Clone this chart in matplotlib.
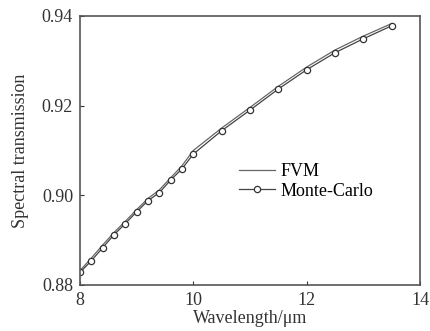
import numpy as np
import matplotlib.pyplot as plt

plt.rcParams['font.family'] = ['Liberation Serif', 'DejaVu Serif']

wl = np.array([8.0, 8.2, 8.4, 8.6, 8.8, 9.0, 9.2, 9.4, 9.6, 9.8,
               10.0, 10.5, 11.0, 11.5, 12.0, 12.5, 13.0, 13.5])
fvm = np.array([0.8832, 0.8860, 0.8889, 0.8917, 0.8942, 0.8968, 0.8993, 0.9012, 0.9039, 0.9066,
                0.9100, 0.9150, 0.9196, 0.9243, 0.9286, 0.9324, 0.9355, 0.9383])
mc = np.array([0.8828, 0.8854, 0.8883, 0.8912, 0.8937, 0.8963, 0.8988, 0.9006, 0.9034, 0.9059,
               0.9092, 0.9144, 0.9190, 0.9237, 0.9280, 0.9318, 0.9349, 0.9378])
xticks = [8, 10, 12, 14]
yticks = [0.88, 0.90, 0.92, 0.94]

fig = plt.figure(figsize=(4.3, 3.31), dpi=100)
ax = fig.add_axes([0.186, 0.139, 0.791, 0.813])

ax.plot(wl, fvm, color='#666666', lw=0.9, label='FVM')
ax.plot(wl, mc, color='#444444', lw=0.9, marker='o', ms=4.5, mfc='white',
        mec='#333333', mew=0.9, label='Monte-Carlo')

ax.set_xlim(8, 14)
ax.set_ylim(0.88, 0.94)
ax.set_xticks(xticks)
ax.set_yticks(yticks)
ax.set_yticklabels([f'{v:.2f}' for v in yticks])
ax.tick_params(direction='in', length=3, width=0.8, labelsize=13, colors='#333333', pad=5)
for s in ax.spines.values():
    s.set_color('#555555')
    s.set_linewidth(1.2)

ax.set_xlabel('Wavelength/\u03bcm', fontsize=13, color='#333333', labelpad=1)
ax.set_ylabel('Spectral transmission', fontsize=13, color='#333333', labelpad=9)

ax.legend(loc='center left', bbox_to_anchor=(0.44, 0.385), frameon=False, fontsize=13,
          handlelength=2.0, handletextpad=0.3, labelspacing=0.15, borderpad=0)

fig.savefig('out.png', dpi=100)
